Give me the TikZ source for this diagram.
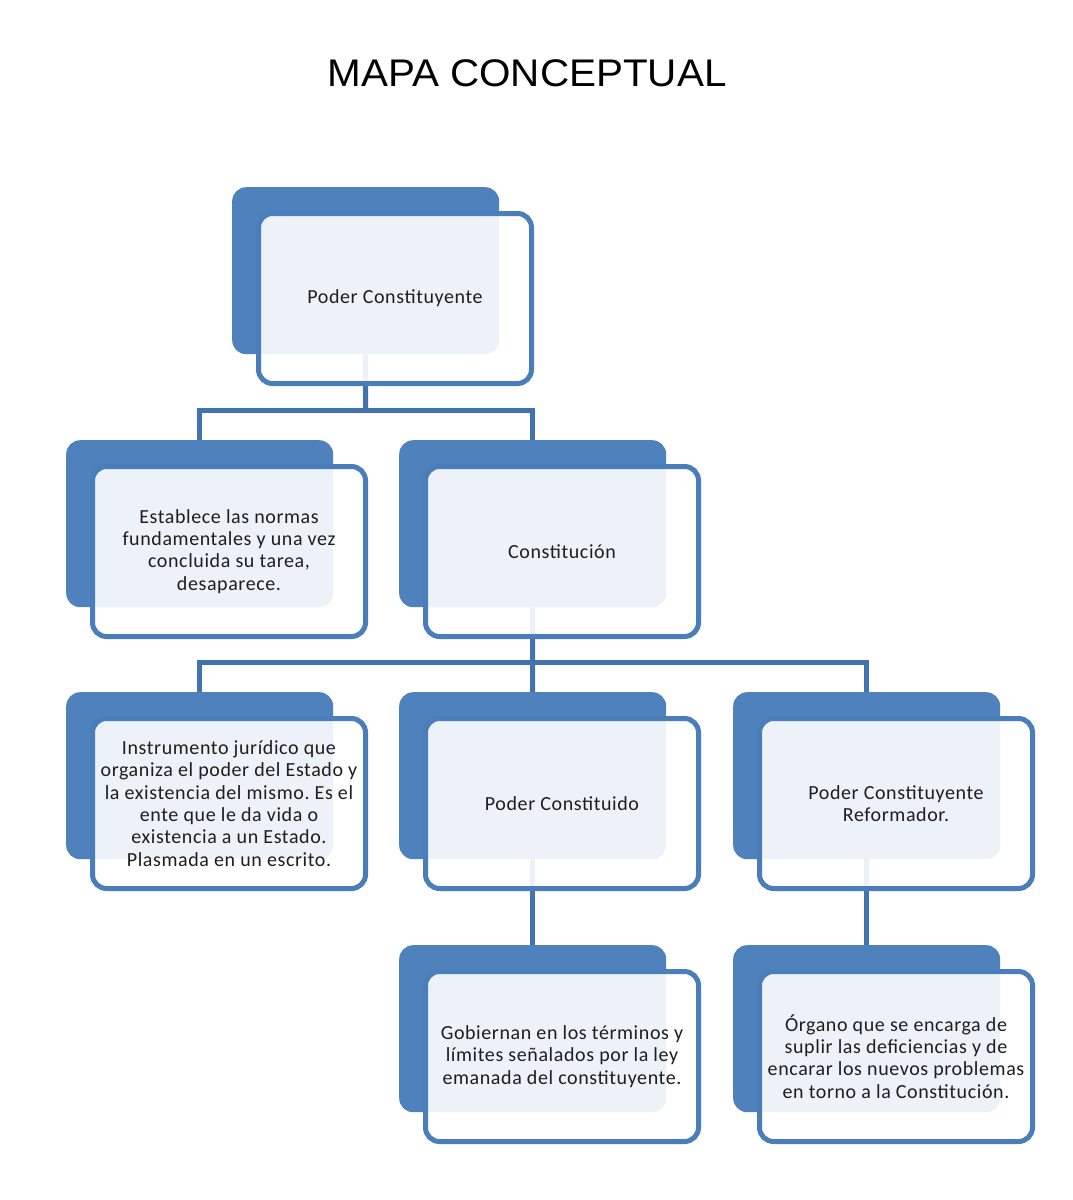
\documentclass[tikz,border=0pt]{standalone}
\usepackage{fontspec}
\setmainfont{Carlito}[LetterSpace=3]
\newfontfamily\titlefont{Liberation Sans}
\definecolor{backblue}{HTML}{4F81BD}
\definecolor{frontblue}{HTML}{4A7EBB}
\definecolor{linkblue}{HTML}{4373AE}
\definecolor{textgray}{HTML}{1E1E1E}
\frenchspacing
\begin{document}
\begin{tikzpicture}[x=1pt,y=-1pt,
  backbox/.style={rectangle, rounded corners=14pt, fill=backblue, minimum width=267pt, minimum height=167pt, inner sep=0pt, anchor=north west},
  frontbox/.style={rectangle, rounded corners=14pt, draw=frontblue, line width=5pt, fill=white, fill opacity=0.9, text opacity=1, minimum width=273pt, minimum height=170pt, inner sep=2pt, align=center, font=\fontsize{20}{22.3}\selectfont, text=textgray},
  link/.style={draw=linkblue, line width=5pt}]
\useasboundingbox[fill=white] (0,0) rectangle (1073,1200);

\node[font=\titlefont\fontsize{38.5}{44}\selectfont, xscale=1.05, transform shape, text=black] (title) at (527,73) {MAPA CONCEPTUAL};

% back boxes
\node[backbox] (bpc)  at (232,187) {};
\node[backbox] (best) at (66,440) {};
\node[backbox] (bcon) at (399,440) {};
\node[backbox] (bins) at (66,692) {};
\node[backbox] (bpcd) at (399,692) {};
\node[backbox] (bpcr) at (733,692) {};
\node[backbox] (bgob) at (399,945) {};
\node[backbox] (borg) at (733,945) {};

% connectors
\coordinate (j1) at (365.5,410);
\coordinate (j2) at (532.5,662);
\draw[link] (bpc.south) -- (j1);
\draw[link] (j1) -| (best.north);
\draw[link] (j1) -| (bcon.north);
\draw[link] (bcon.south) -- (j2);
\draw[link] (j2) -| (bins.north);
\draw[link] (j2) -- (bpcd.north);
\draw[link] (j2) -| (bpcr.north);
\draw[link] (bpcd.south) -- (bgob.north);
\draw[link] (bpcr.south) -- (borg.north);

% front boxes
\node[frontbox] (fpc)  at ([xshift=163pt,yshift=-111.5pt]bpc.north west)  {Poder Constituyente};
\node[frontbox] (fest) at ([xshift=163pt,yshift=-111.5pt]best.north west) {Establece las normas\\fundamentales y una vez\\concluida su tarea,\\desaparece.};
\node[frontbox] (fcon) at ([xshift=163pt,yshift=-111.5pt]bcon.north west) {Constitución};
\node[frontbox] (fins) at ([xshift=163pt,yshift=-111.5pt]bins.north west) {Instrumento jurídico que\\organiza el poder del Estado y\\la existencia del mismo. Es el\\ente que le da vida o\\existencia a un Estado.\\Plasmada en un escrito.};
\node[frontbox] (fpcd) at ([xshift=163pt,yshift=-111.5pt]bpcd.north west) {Poder Constituido};
\node[frontbox] (fpcr) at ([xshift=163pt,yshift=-111.5pt]bpcr.north west) {Poder Constituyente\\Reformador.};
\node[frontbox] (fgob) at ([xshift=163pt,yshift=-111.5pt]bgob.north west) {Gobiernan en los términos y\\límites señalados por la ley\\emanada del constituyente.};
\node[frontbox] (forg) at ([xshift=163pt,yshift=-111.5pt]borg.north west) {Órgano que se encarga de\\suplir las deficiencias y de\\encarar los nuevos problemas\\en torno a la Constitución.};
\end{tikzpicture}
\end{document}
